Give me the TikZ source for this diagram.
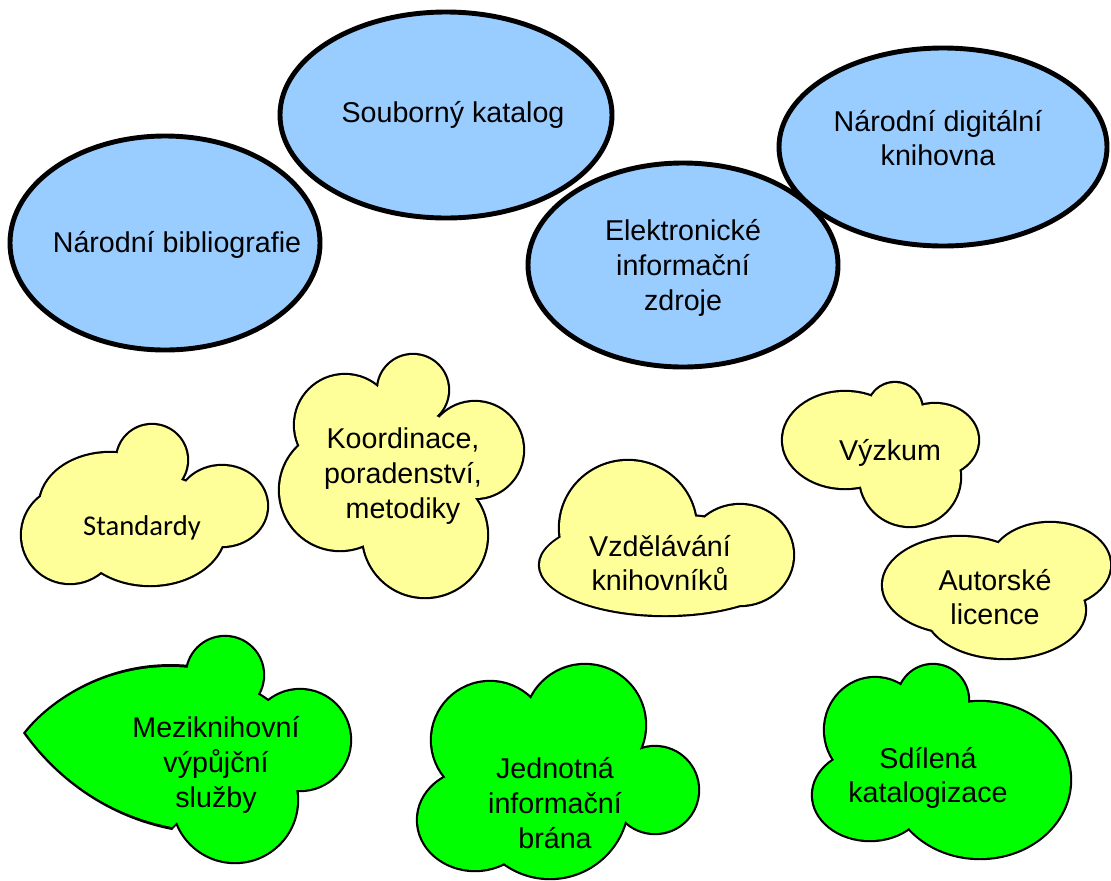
\documentclass[tikz,border=0pt]{standalone}
\usepackage{fontspec}
\setmainfont{Liberation Sans}
\newfontfamily\calibrifont{Carlito}
\usetikzlibrary{positioning}
\definecolor{ovalblue}{HTML}{99CCFF}
\definecolor{cloudyellow}{HTML}{FFFF99}
\definecolor{cloudgreen}{HTML}{00FF00}
\tikzset{
	blueoval/.style={draw=black, line width=2.8pt, fill=ovalblue},
	cloudtext/.style={align=center, font=\fontsize{16.3}{19.8}\selectfont},
}
% cloud = union of ellipses: black pass first, fill pass on top
\def\cloudblob#1#2{%
	\foreach \cx/\cy/\rx/\ry in {#2} \fill[black] (\cx,\cy) ellipse [x radius=\rx+2.2, y radius=\ry+2.2];
	\foreach \cx/\cy/\rx/\ry in {#2} \fill[#1] (\cx,\cy) ellipse [x radius=\rx, y radius=\ry];
}

\begin{document}
\begin{tikzpicture}[x=0.02cm, y=-0.02cm]
			%%%%% START %%%%%
			\useasboundingbox (0,0) rectangle (1111,880);
			
			\draw[blueoval] (165,243) ellipse [x radius=155, y radius=107];
			\draw[blueoval] (446,115) ellipse [x radius=166, y radius=103];
			\draw[blueoval] (943,147) ellipse [x radius=164, y radius=99];
			\draw[blueoval] (683,265) ellipse [x radius=155, y radius=102];
			
			\node[cloudtext] (nb) at (177,245) {Národní bibliografie};
			\node[cloudtext] (sk) at (453,115) {Souborný katalog};
			\node[cloudtext] (ndk) at (938,138) {Národní digitální\\knihovna};
			\node[cloudtext] (eiz) at (683,268) {Elektronické\\informační\\zdroje};
			
			% yellow clouds
			\cloudblob{cloudyellow}{152/460/35/35, 222/506/45/40, 150/530/75/55, 70/535/48/48, 110/505/70/52}
			\cloudblob{cloudyellow}{413/390/35/35, 475/450/48/48, 425/535/62/62, 340/490/60/60, 345/425/50/50, 410/470/60/60}
			\cloudblob{cloudyellow}{628/528/68/67, 740/555/53/50, 665/565/125/50}
			\cloudblob{cloudyellow}{895/410/27/27, 935/440/43/36, 910/477/50/49, 845/440/62/48}
			\cloudblob{cloudyellow}{960/585/77/48, 1050/565/60/42, 1005/610/80/48}
			
			% green clouds
			\fill[black] (23,733) .. controls (48,700) and (110,657) .. (190,665) -- (260,740) -- (172,830) .. controls (110,818) and (58,782) .. (23,733) -- cycle;
			\cloudblob{cloudgreen}{225/675/38/38, 300/740/50/50, 235/800/62/62, 220/745/70/60}
			\fill[cloudgreen] (26,733) .. controls (50,702) and (110,660) .. (190,668) -- (260,740) -- (172,827) .. controls (110,815) and (60,780) .. (26,733) -- cycle;
			\cloudblob{cloudgreen}{490/740/58/58, 585/725/60/60, 655/790/43/43, 550/800/78/78, 475/820/57/50}
			\cloudblob{cloudgreen}{933/700/35/35, 980/780/90/78, 870/795/57/45, 875/730/50/52}
			
			\node[cloudtext, font=\calibrifont\fontsize{16.3}{19.8}\selectfont] (std) at (142,528) {Standardy};
			\node[cloudtext] (kpm) at (403,476) {Koordinace,\\poradenství,\\metodiky};
			\node[cloudtext] (vzk) at (660,563) {Vzdělávání\\knihovníků};
			\node[cloudtext] (vyz) at (890,453) {Výzkum};
			\node[cloudtext] (al) at (995,597) {Autorské\\licence};
			\node[cloudtext] (mvs) at (216,765) {Meziknihovní\\výpůjční\\služby};
			\node[cloudtext] (jib) at (555,803) {Jednotná\\informační\\brána};
			\node[cloudtext] (sdk) at (928,778) {Sdílená\\katalogizace};
			%%%%% END %%%%%
\end{tikzpicture}
\end{document}
